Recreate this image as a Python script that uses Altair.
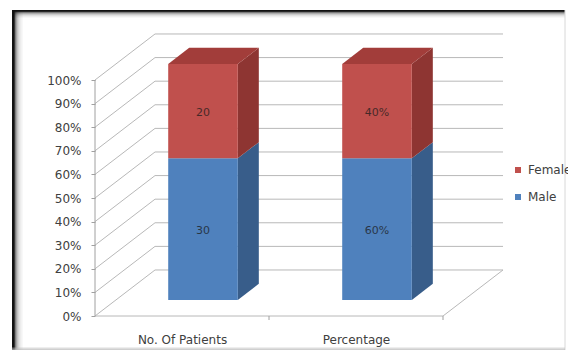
import altair as alt
import pandas as pd

# ---- data ----
categories = ["No. Of Patients", "Percentage"]
male = [30, 60]
female = [20, 40]
label_units = ["", "%"]
y_ticks = [0, 10, 20, 30, 40, 50, 60, 70, 80, 90, 100]

# ---- oblique projection of the 3-D box (world units) ----
PX_X = 174.0          # pixels per category slot
PX_Y = 2.36           # pixels per percent
DEPTH_X = 0.345       # full box depth, in category units
DEPTH_Y = 19.5        # full box depth, in percent units
Z_FRONT, Z_BACK = 0.35, 0.70   # depth range occupied by the columns
BAR_LO, BAR_HI = 0.3, 0.7      # column extent inside a category slot
W, H = 410, 290

FRONT = {"Male": "#4F81BD", "Female": "#C0504D"}
SIDE = {"Male": "#385D8A", "Female": "#8E3532"}
TOP = {"Male": "#44709F", "Female": "#A23D3A"}
GRID = "#b8b8b8"
TEXT = "#404040"
FONT = "DejaVu Sans"


def px(x, z):
    return x + z * DEPTH_X


def py(y, z):
    return y + z * DEPTH_Y


fronts, sides, tops, labels = [], [], [], []
for ci, cat in enumerate(categories):
    total = male[ci] + female[ci]
    base = 0.0
    for name, vals in (("Male", male), ("Female", female)):
        share = vals[ci] / total * 100
        y0, y1 = base, base + share
        x0, x1 = ci + BAR_LO, ci + BAR_HI
        fronts.append({"series": name, "x": px(x0, Z_FRONT), "x2": px(x1, Z_FRONT),
                       "y": py(y0, Z_FRONT), "y2": py(y1, Z_FRONT)})
        for z in (Z_FRONT, Z_BACK):
            sides.append({"face": f"{ci}-{name}", "shade": SIDE[name],
                          "x": px(x1, z), "y": py(y0, z), "y2": py(y1, z)})
        if name == "Female":
            for z in (Z_FRONT, Z_BACK):
                tops.append({"face": f"{ci}-top", "shade": TOP[name],
                             "y": py(y1, z), "x": px(x0, z), "x2": px(x1, z)})
        labels.append({"text": f"{vals[ci]}{label_units[ci]}",
                       "x": px(ci + 0.5, Z_FRONT), "y": py((y0 + y1) / 2, Z_FRONT)})
        base = y1

# walls, floor and axis line
n_cat = len(categories)
lines = []
for t in y_ticks:
    lines.append({"x": 0, "y": t, "x2": px(0, 1), "y2": py(t, 1), "c": GRID, "o": 1})
    lines.append({"x": px(0, 1), "y": py(t, 1), "x2": px(n_cat, 1), "y2": py(t, 1), "c": GRID, "o": 1})
lines.append({"x": 0, "y": 0, "x2": n_cat, "y2": 0, "c": GRID, "o": 1})
lines.append({"x": n_cat, "y": 0, "x2": px(n_cat, 1), "y2": py(0, 1), "c": GRID, "o": 1})
lines.append({"x": 0, "y": 0, "x2": 0, "y2": 100, "c": "#a0a0a0", "o": 1})


# chart border with a soft shadow on its top and left edges, given in pixels
# relative to the plot origin and converted to scale units
def wx(p):
    return p / PX_X


def wy(p):
    return (H - p) / PX_Y


L, T, R, B = -83, -16, 470, 324
for i, op in enumerate([1, 1, 0.85, 0.55, 0.38, 0.26, 0.18, 0.12, 0.08, 0.05, 0.03]):
    lines.append({"x": wx(L + i + 0.5), "x2": wx(L + i + 0.5), "y": wy(T), "y2": wy(B), "c": "#111111", "o": op})
for i, op in enumerate([1, 0.9, 0.55, 0.35, 0.22, 0.13, 0.07, 0.03]):
    lines.append({"x": wx(L), "x2": wx(R), "y": wy(T + i + 0.5), "y2": wy(T + i + 0.5), "c": "#111111", "o": op})
lines.append({"x": wx(R), "x2": wx(R), "y": wy(T), "y2": wy(B), "c": "#d8d8d8", "o": 1})
for i, op in enumerate([0.25, 0.5, 0.7]):
    lines.append({"x": wx(L), "x2": wx(R), "y": wy(321 + i + 0.5), "y2": wy(321 + i + 0.5), "c": "#bbbbbb", "o": op})
lines_df = pd.DataFrame(lines)

ticks_df = pd.DataFrame({"x": list(range(1, n_cat + 1))})

xs = alt.Scale(domain=[0, W / PX_X], nice=False, zero=False)
ys = alt.Scale(domain=[0, H / PX_Y], nice=False, zero=False)

cat_expr = " : ".join(
    [f"datum.value < {i + 1} ? '{c}'" for i, c in enumerate(categories[:-1])] + [f"'{categories[-1]}'"]
)

x_axis = alt.Axis(values=[i + 0.5 for i in range(n_cat)], labelExpr=cat_expr, title=None,
                  ticks=False, domain=False, grid=False, labelPadding=18,
                  labelFont=FONT, labelFontSize=12, labelColor=TEXT)
y_axis = alt.Axis(values=y_ticks, labelExpr="datum.value + '%'", title=None,
                  domain=False, grid=False, ticks=True, tickSize=4, tickColor="#a0a0a0",
                  labelPadding=10, labelFont=FONT, labelFontSize=12, labelColor=TEXT)


def X(field):
    return alt.X(field, scale=xs, axis=x_axis, title=None)


def Y(field):
    return alt.Y(field, scale=ys, axis=y_axis, title=None)


grid_layer = alt.Chart(lines_df).mark_rule(strokeWidth=1).encode(
    x=X("x:Q"), x2="x2:Q",
    y=Y("y:Q"), y2="y2:Q",
    color=alt.Color("c:N", scale=None),
    opacity=alt.Opacity("o:Q", scale=None),
)

tick_layer = alt.Chart(ticks_df).mark_rule(strokeWidth=1, color="#a0a0a0").encode(
    x=X("x:Q"),
    y=alt.value(H), y2=alt.value(H + 4),
)

side_layer = alt.Chart(pd.DataFrame(sides)).mark_area(orient="vertical", opacity=1).encode(
    x=X("x:Q"),
    y=Y("y:Q"), y2="y2:Q",
    detail="face:N",
    fill=alt.Fill("shade:N", scale=None),
)

top_layer = alt.Chart(pd.DataFrame(tops)).mark_area(orient="horizontal", opacity=1).encode(
    y=Y("y:Q"),
    x=X("x:Q"), x2="x2:Q",
    detail="face:N",
    fill=alt.Fill("shade:N", scale=None),
)

front_layer = alt.Chart(pd.DataFrame(fronts)).mark_rect().encode(
    x=X("x:Q"), x2="x2:Q",
    y=Y("y:Q"), y2="y2:Q",
    color=alt.Color(
        "series:N",
        scale=alt.Scale(domain=["Female", "Male"], range=[FRONT["Female"], FRONT["Male"]]),
        legend=alt.Legend(orient="none", legendX=417, legendY=138, title=None,
                          symbolType="square", symbolSize=36, symbolStrokeWidth=0,
                          labelFont=FONT, labelFontSize=12, labelColor=TEXT,
                          rowPadding=15, labelOffset=4),
    ),
)

label_layer = alt.Chart(pd.DataFrame(labels)).mark_text(
    font=FONT, fontSize=11, color="#1c1c1c", opacity=0.75, baseline="middle", align="center", dy=2
).encode(
    x=X("x:Q"),
    y=Y("y:Q"),
    text="text:N",
)

chart = alt.layer(
    grid_layer, tick_layer, side_layer, top_layer, front_layer, label_layer
).properties(
    width=W, height=H,
    autosize=alt.AutoSizeParams(type="none"),
    padding={"left": 95, "top": 26, "right": 568 - 95 - W, "bottom": 350 - 26 - H},
    background="white",
).configure_view(stroke=None)

chart.save("out.html", embed_options={"renderer": "svg", "actions": False})
